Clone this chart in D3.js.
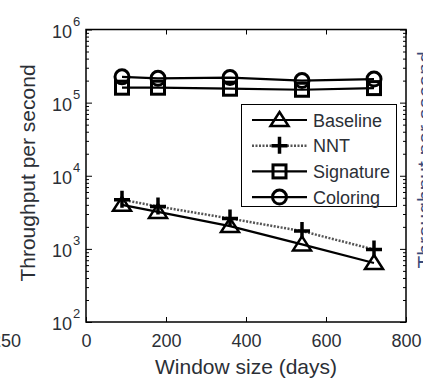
<!DOCTYPE html>
<html>
<head>
<meta charset="utf-8">
<script src="https://cdnjs.cloudflare.com/ajax/libs/d3/7.8.5/d3.min.js"></script>
<style>
  body { margin: 0; background: #fff; }
  svg { display: block; font-family: "Liberation Sans", Arial, sans-serif; }
</style>
</head>
<body>
<div class="canva"></div>
<script>
// window sizes (days) on the x axis
const windows = [90, 180, 360, 540, 720];

// throughput per second for each method
const baseline = [4000, 3200, 2050, 1150, 640];
const nnt = [4700, 3800, 2600, 1750, 980];
const signature = [160000, 160000, 155000, 150000, 158000];
const coloring = [225000, 215000, 220000, 200000, 210000];

const xTicks = [0, 200, 400, 600, 800];
const yExps = [2, 3, 4, 5, 6];
const seriesNames = ['Baseline', 'NNT', 'Signature', 'Coloring'];

const W = 423, H = 382;
const plotL = 86, plotR = 406, plotT = 29.5, plotB = 322;

const svg = d3.select('.canva').append('svg')
    .attr('width', W)
    .attr('height', H);

const x = d3.scaleLinear().domain([0, 800]).range([plotL, plotR]);
const y = d3.scaleLog().domain([1e2, 1e6]).range([plotB, plotT]);

const textCol = '#2b2f36';

// minor log ticks
const minors = [];
yExps.slice(0, -1).forEach(e => {
    for (let k = 2; k <= 9; k++) minors.push(k * Math.pow(10, e));
});
const majors = yExps.map(e => Math.pow(10, e));

// axes (ticks pointing inward)
const xb = svg.append('g').attr('transform', `translate(0,${plotB})`)
    .call(d3.axisBottom(x).tickValues(xTicks).tickSizeInner(-5).tickSizeOuter(0).tickPadding(12));
svg.append('g').attr('transform', `translate(0,${plotT})`)
    .call(d3.axisTop(x).tickValues(xTicks).tickSizeInner(-5).tickSizeOuter(0).tickFormat(''));
svg.append('g').attr('transform', `translate(${plotL},0)`)
    .call(d3.axisLeft(y).tickValues(majors).tickSizeInner(-6).tickSizeOuter(0).tickFormat(''));
svg.append('g').attr('transform', `translate(${plotR},0)`)
    .call(d3.axisRight(y).tickValues(majors).tickSizeInner(-6).tickSizeOuter(0).tickFormat(''));
svg.append('g').attr('transform', `translate(${plotL},0)`)
    .call(d3.axisLeft(y).tickValues(minors).tickSizeInner(-3).tickSizeOuter(0).tickFormat(''));
svg.append('g').attr('transform', `translate(${plotR},0)`)
    .call(d3.axisRight(y).tickValues(minors).tickSizeInner(-3).tickSizeOuter(0).tickFormat(''));

svg.selectAll('.domain').remove();
svg.selectAll('.tick line').attr('stroke', '#000').attr('stroke-width', 1);
xb.selectAll('text').attr('font-size', 18).attr('fill', textCol)
    .attr('font-family', '"Liberation Sans", Arial, sans-serif');

// box
svg.append('rect')
    .attr('x', plotL).attr('y', plotT)
    .attr('width', plotR - plotL).attr('height', plotB - plotT)
    .attr('fill', 'none').attr('stroke', '#000').attr('stroke-width', 1.5);

// y tick labels 10^n
yExps.forEach(e => {
    svg.append('text')
        .attr('x', 72).attr('y', y(Math.pow(10, e)) + 8)
        .attr('text-anchor', 'end')
        .attr('font-size', 18).attr('fill', textCol)
        .text('10');
    svg.append('text')
        .attr('x', 73).attr('y', y(Math.pow(10, e)) - 4)
        .attr('font-size', 13).attr('fill', textCol)
        .text(e);
});

// axis titles
svg.append('text')
    .attr('x', (plotL + plotR) / 2).attr('y', 374)
    .attr('text-anchor', 'middle')
    .attr('font-size', 21).attr('fill', textCol)
    .text('Window size (days)');
svg.append('text')
    .attr('transform', 'translate(35,173) rotate(-90)')
    .attr('text-anchor', 'middle')
    .attr('font-size', 21).attr('fill', textCol)
    .text('Throughput per second');

// bits of neighbouring panels
svg.append('text')
    .attr('x', 21).attr('y', 347).attr('text-anchor', 'end')
    .attr('font-size', 18).attr('fill', textCol)
    .text('250');
svg.append('text')
    .attr('transform', 'translate(432,160) rotate(-90)')
    .attr('text-anchor', 'middle')
    .attr('font-size', 21).attr('fill', '#3a4a7a')
    .text('Throughput per second');

// markers
function drawMarker(g, type, cx, cy) {
    if (type === 'Baseline') {
        g.append('path')
            .attr('d', `M${cx},${cy - 8}L${cx + 9},${cy + 6}L${cx - 9},${cy + 6}Z`)
            .attr('fill', 'none').attr('stroke', '#000').attr('stroke-width', 2.5)
            .attr('stroke-linejoin', 'miter');
    } else if (type === 'NNT') {
        g.append('path')
            .attr('d', `M${cx - 8},${cy}H${cx + 8}M${cx},${cy - 9}V${cy + 8}`)
            .attr('stroke', '#000').attr('stroke-width', 3.5);
    } else if (type === 'Signature') {
        g.append('rect')
            .attr('x', cx - 6.5).attr('y', cy - 6.5).attr('width', 13).attr('height', 13)
            .attr('fill', 'none').attr('stroke', '#000').attr('stroke-width', 3);
    } else {
        g.append('circle')
            .attr('cx', cx).attr('cy', cy).attr('r', 7)
            .attr('fill', 'none').attr('stroke', '#000').attr('stroke-width', 3);
    }
}

const series = [
    { name: 'Baseline', values: baseline, dash: null, color: '#000', width: 2.2 },
    { name: 'NNT', values: nnt, dash: '2,1.5', color: '#555', width: 2.5 },
    { name: 'Signature', values: signature, dash: null, color: '#000', width: 2.2 },
    { name: 'Coloring', values: coloring, dash: null, color: '#000', width: 2.2 }
];

const line = d3.line().x(d => x(d[0])).y(d => y(d[1]));

series.forEach(s => {
    const pts = windows.map((w, i) => [w, s.values[i]]);
    svg.append('path')
        .attr('d', line(pts))
        .attr('fill', 'none')
        .attr('stroke', s.color)
        .attr('stroke-width', s.width)
        .attr('stroke-dasharray', s.dash);
    const g = svg.append('g');
    pts.forEach(p => drawMarker(g, s.name, x(p[0]), y(p[1])));
});

// legend
const lg = svg.append('g');
lg.append('rect')
    .attr('x', 241.5).attr('y', 104.5).attr('width', 155).attr('height', 102)
    .attr('fill', '#fff').attr('stroke', '#000').attr('stroke-width', 1);
series.forEach((s, i) => {
    const ly = 120 + i * 25.7;
    lg.append('line')
        .attr('x1', 252).attr('x2', 307).attr('y1', ly).attr('y2', ly)
        .attr('stroke', s.color).attr('stroke-width', s.width)
        .attr('stroke-dasharray', s.dash);
    drawMarker(lg, s.name, 279.5, ly);
    lg.append('text')
        .attr('x', 313).attr('y', ly + 6.5)
        .attr('font-size', 18).attr('fill', textCol)
        .text(s.name);
});
</script>
</body>
</html>
